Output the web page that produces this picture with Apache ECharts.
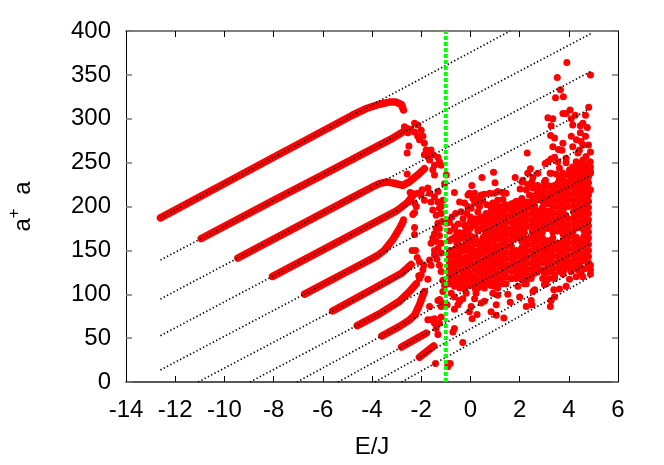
<!DOCTYPE html>
<html>
<head>
<meta charset="utf-8">
<style>
  html, body { margin: 0; padding: 0; background: #fff; }
  #chart { width: 664px; height: 465px; }
</style>
<script src="https://cdn.jsdelivr.net/npm/echarts@6/dist/echarts.min.js"></script>
</head>
<body>
<div id="chart"></div>
<script>
// axis ticks
const xTicks = { min: -14, max: 6, interval: 2 };
const yTicks = { min: 0, max: 400, interval: 50 };

// dotted guide lines, [E, a+a] at both ends
const guideLines = [
  [[-12.6, 187], [1.62, 400]],
  [[-12.6, 139], [4.9, 397]],
  [[-12.6, 94.6], [4.9, 354]],
  [[-12.6, 52.8], [4.9, 312]],
  [[-12.6, 13.7], [4.9, 272]],
  [[-11.07, 0], [4.9, 236]],
  [[-8.96, 0], [4.9, 205]],
  [[-7.05, 0], [4.9, 182]],
  [[-5.38, 0], [4.9, 158]],
  [[-3.88, 0], [4.9, 137]],
  [[-2.8, 0], [4.9, 120]]
];

// the ten regular branches on the left
const branches = [
  [[-12.6, 187], [-10.2, 223], [-8.17, 253.5], [-6.13, 284], [-4.8, 304], [-4.2, 312], [-3.7, 316.5], [-3.29, 319], [-3.02, 319], [-2.8, 316], [-2.72, 310]],
  [[-10.94, 163.5], [-8, 207], [-6, 236], [-3.7, 270], [-3.15, 278], [-2.68, 286]],
  [[-9.45, 141.3], [-7, 177.6], [-5, 207.2], [-4.5, 214.6], [-4, 222], [-3.7, 226], [-3.4, 228], [-3.1, 226.5], [-2.75, 224], [-2.48, 228], [-2.14, 236], [-1.87, 243]],
  [[-8.04, 120.3], [-6, 150.5], [-4, 180.2], [-3.5, 187.6], [-3, 195], [-2.54, 205], [-2.3, 214]],
  [[-6.74, 100.2], [-5, 125.9], [-4, 140.6], [-3.78, 144], [-3.5, 150], [-3.16, 162], [-2.88, 175], [-2.75, 182]],
  [[-5.6, 81], [-3.7, 110], [-2.8, 124], [-2.41, 134]],
  [[-4.6, 64.3], [-3.7, 77.6], [-2.88, 92], [-2.48, 103], [-2.2, 112]],
  [[-3.6, 52.5], [-2.88, 63.4], [-2.48, 70.6], [-2.27, 76], [-2.07, 88], [-1.93, 99], [-1.87, 103]],
  [[-2.8, 39.9], [-1.8, 55.5]],
  [[-2.07, 28.2], [-1.49, 41]]
];

// dense part of the cloud, one list of a+a per E column
const cloudE = [-0.85, -0.64, -0.43, -0.22, -0.01, 0.2, 0.41, 0.62, 0.83, 1.04, 1.25, 1.46, 1.67, 1.88, 2.09, 2.3, 2.51, 2.72, 2.93, 3.14, 3.35, 3.56, 3.77, 3.98, 4.19, 4.4, 4.61, 4.8];
const cloudN = [
  [172, 161, 150, 143, 136, 129, 121],
  [175, 165, 151, 144, 137, 130, 122, 114],
  [170, 163, 155, 148, 141, 134, 127, 119, 112],
  [178, 171, 164, 156, 150, 142, 135, 128, 121, 113, 106],
  [182, 175, 167, 160, 153, 146, 139, 132, 124, 117, 110],
  [186, 178, 164, 157, 149, 143, 135, 128, 120, 113, 106],
  [188, 182, 174, 160, 153, 146, 138, 132, 125, 118, 110],
  [190, 184, 177, 170, 163, 156, 149, 142, 134, 127, 121, 114],
  [194, 187, 181, 173, 166, 160, 152, 145, 138, 131, 124, 117, 110],
  [197, 190, 184, 176, 170, 163, 155, 148, 141, 135, 127, 120, 113],
  [200, 193, 187, 179, 173, 166, 158, 152, 145, 138, 131, 123, 116],
  [197, 190, 183, 176, 169, 162, 155, 148, 141, 134, 127, 120],
  [203, 196, 189, 182, 174, 168, 161, 154, 147, 140, 133, 126, 118],
  [206, 199, 192, 185, 178, 171, 164, 150, 143, 136, 129, 122],
  [209, 202, 195, 188, 181, 174, 167, 160, 153, 146, 139, 132, 125, 117],
  [205, 198, 191, 184, 177, 163, 156, 149, 142, 135, 128, 121],
  [212, 206, 199, 192, 185, 178, 171, 164, 157, 150, 143, 136, 129, 122],
  [216, 209, 195, 188, 181, 174, 167, 160, 153, 146, 139, 132, 125],
  [220, 213, 206, 199, 192, 185, 178, 171, 164, 157, 150, 143, 136, 128],
  [224, 216, 210, 203, 195, 189, 182, 175, 161, 154, 147, 140, 133, 126],
  [220, 213, 206, 199, 192, 185, 178, 171, 164, 157, 150, 143, 136, 129],
  [227, 221, 214, 207, 200, 193, 186, 179, 172, 158, 151, 144, 137, 130],
  [231, 224, 217, 210, 203, 196, 189, 182, 175, 168, 161, 154, 147, 140, 133],
  [228, 221, 214, 207, 200, 186, 179, 172, 165, 158, 151, 144, 137, 131],
  [236, 229, 222, 215, 208, 201, 194, 187, 180, 173, 166, 159, 152, 145, 138, 131],
  [239, 232, 225, 218, 211, 204, 197, 190, 183, 176, 162, 155, 148, 141, 134],
  [236, 229, 222, 215, 208, 201, 194, 187, 180, 173, 166, 159, 152, 145, 138],
  [241, 234, 227, 220, 213, 206, 199, 192, 185, 178, 171, 164, 157, 150, 143, 136]
];
// more dots between those columns, where the reference is solid red
const cloudFill = [
  [-0.75, 150], [-0.75, 136], [-0.75, 122], [-0.55, 158], [-0.55, 143], [-0.55, 128], [-0.33, 165], [-0.33, 150], [-0.33, 135], [-0.33, 120], [-0.12, 172], [-0.12, 157], [-0.12, 142], [-0.12, 127],
  [0.1, 180], [0.1, 165], [0.1, 150], [0.1, 135], [0.1, 120], [0.3, 172], [0.3, 158], [0.3, 142], [0.3, 127], [0.52, 178], [0.52, 165], [0.52, 150], [0.52, 135], [0.52, 120],
  [0.72, 184], [0.72, 170], [0.72, 155], [0.72, 140], [0.72, 125], [0.93, 190], [0.93, 176], [0.93, 160], [0.93, 145], [0.93, 130], [1.15, 194], [1.15, 180], [1.15, 165], [1.15, 150], [1.15, 135],
  [1.35, 190], [1.35, 175], [1.35, 160], [1.35, 145], [1.35, 130], [1.78, 180], [1.78, 165], [2.2, 195], [2.2, 170], [2.2, 150], [2.62, 200], [2.62, 175], [2.62, 150],
  [3.03, 210], [3.03, 180], [3.03, 150], [3.45, 215], [3.45, 185], [3.45, 155], [3.87, 220], [3.87, 190], [3.87, 160], [4.3, 225], [4.3, 195], [4.3, 165]
];

// separate dots: tangle by the green line, edges of the cloud
const tangleDots = [
  [-2.68, 291], [-2.27, 295], [-2.14, 293], [-2.0, 287], [-1.93, 280], [-1.87, 272], [-1.8, 264.5], [-1.6, 264.5], [-1.53, 259], [-1.73, 259], [-1.87, 259], [-1.66, 253],
  [-1.32, 256], [-1.26, 251], [-1.19, 247], [-1.46, 247], [-1.53, 242], [-1.46, 236], [-0.98, 236], [-1.05, 226], [-2.07, 276], [-2.14, 280], [-2.54, 284], [-2.5, 269], [-2.57, 261],
  [-2.44, 288], [-2.57, 289], [-2.27, 285], [-2.57, 237], [-2.45, 216], [-2.27, 204], [-1.96, 219], [-2.0, 213], [-1.73, 221], [-1.66, 215], [-2.14, 215], [-1.87, 207], [-1.46, 211],
  [-1.32, 217], [-1.12, 207], [-1.19, 200], [-2.2, 200], [-2.72, 185], [-2.27, 176], [-2.27, 168], [-2.27, 193], [-2.34, 191], [-1.53, 196], [-2.37, 150], [-2.23, 150],
  [-2.16, 142], [-2.07, 137], [-1.89, 133], [-1.93, 128], [-2.0, 122], [-2.1, 121], [-2.07, 118], [-1.73, 117], [-1.73, 71], [-1.6, 71], [-1.46, 72], [-1.66, 86], [-1.19, 86],
  [-1.32, 93], [-1.25, 94], [-1.19, 74], [-1.12, 90], [-1.46, 67], [-1.26, 67], [-1.39, 61], [-1.32, 54], [-1.42, 21], [-0.92, 21], [-0.82, 21], [-0.92, 17.5], [-0.71, 57], [-0.65, 61],
  [-1.46, 169], [-1.53, 164], [-1.6, 158], [-1.39, 175], [-1.32, 181], [-1.39, 160], [-1.26, 167], [-1.19, 158], [-1.32, 152], [-1.46, 150], [-1.19, 147], [-1.26, 175], [-1.15, 183],
  [-1.19, 192], [-1.26, 198], [-1.32, 205], [-1.39, 190], [-1.6, 205], [-1.46, 145], [-1.36, 140], [-1.66, 139], [-1.6, 133], [-1.26, 133], [-1.19, 126], [-1.12, 116], [-1.05, 110], [-1.12, 103]
];
const upperDots = [
  [3.92, 364], [3.53, 347], [4.88, 350], [3.66, 333], [3.46, 324], [3.78, 325], [4.05, 310], [3.76, 306], [3.89, 306], [3.15, 301], [3.35, 300], [4.81, 313], [4.68, 304], [4.26, 304],
  [4.1, 300], [4.16, 293], [3.28, 292], [4.57, 295], [4.47, 292], [4.75, 290], [4.47, 284], [3.26, 281], [3.42, 278], [4.1, 280], [4.31, 276], [4.68, 280], [4.5, 274], [3.76, 272],
  [3.35, 268], [3.58, 265], [3.72, 264], [4.16, 268], [4.8, 270], [4.57, 270], [4.43, 264], [4.37, 261], [4.88, 262], [2.31, 261], [4.7, 257], [3.89, 255], [3.42, 256], [3.28, 254],
  [3.15, 251], [3.04, 249], [3.55, 251], [3.89, 250], [3.62, 244], [4.57, 253], [4.43, 249], [4.87, 251], [4.77, 245], [4.16, 245], [4.03, 242], [2.44, 243], [2.33, 238], [2.74, 238],
  [0.94, 239], [0.47, 233], [1.82, 233], [3.24, 238], [3.49, 237], [2.54, 233], [3.62, 232], [3.05, 230], [4.23, 238], [4.5, 242], [4.7, 240], [4.88, 240], [4.64, 234], [4.37, 234],
  [4.1, 234], [2.13, 230], [-0.65, 216], [0.06, 224], [-0.04, 215], [0.1, 209], [0.3, 209], [0.57, 214], [0.78, 215], [1.0, 227], [1.11, 217], [1.32, 216], [0.37, 200], [0.67, 202],
  [0.91, 204], [1.11, 207], [1.32, 208], [1.38, 200], [1.83, 205], [2.1, 228], [2.02, 220], [2.33, 225], [2.5, 228], [2.74, 224], [3.01, 228], [2.27, 219], [2.4, 213], [2.54, 221],
  [2.81, 221], [3.42, 224], [3.62, 232], [3.28, 238], [4.03, 238], [4.16, 232], [3.82, 224], [4.41, 234], [2.06, 206], [-0.44, 205], [-0.38, 194], [0.03, 198], [0.3, 194], [0.64, 192], [-0.98, 181]
];
const upperFringe = [
  [-0.1, 213], [0.17, 215], [0.44, 213], [0.98, 215], [1.45, 215], [-0.24, 204], [0.17, 204], [0.5, 206], [0.84, 200], [1.11, 200], [1.45, 202], [1.72, 202], [2.0, 200], [2.33, 204],
  [2.67, 207], [2.74, 215], [3.01, 223], [3.28, 223], [3.15, 213], [3.49, 215], [3.76, 221], [4.1, 226], [4.37, 230], [4.64, 234], [4.88, 238], [4.77, 226], [4.5, 223], [4.88, 219],
  [3.01, 204], [3.42, 206], [2.6, 196], [2.2, 192], [1.79, 192], [1.38, 188], [0.98, 185], [0.57, 185], [0.17, 183], [-0.24, 179], [-0.65, 177], [-0.85, 182], [-0.75, 188], [-0.6, 192],
  [-0.5, 180], [-0.3, 186], [-0.15, 192], [0.0, 188], [-0.1, 200], [-0.75, 163], [-0.55, 170],
  [4.3, 251], [4.5, 247], [4.64, 249], [4.3, 243], [4.84, 241], [4.37, 240], [4.16, 240], [4.64, 243], [4.5, 238], [4.88, 245], [3.89, 236], [3.76, 238]
];
const lowerDots = [
  [-0.31, 45], [0.07, 72], [0.27, 77], [-0.04, 80], [0.03, 86], [-0.65, 83], [-0.51, 88], [-0.44, 92], [-0.31, 95], [-0.95, 88], [-0.78, 101], [-0.44, 107], [-0.17, 101], [0.17, 95],
  [0.44, 90], [0.57, 92], [0.23, 101], [0.84, 80], [1.05, 76], [1.36, 73], [1.05, 88], [1.62, 91], [1.11, 99], [0.91, 101], [1.52, 100], [2.0, 97], [2.27, 86], [2.5, 88], [2.47, 93],
  [3.25, 86], [3.28, 93], [3.42, 97], [3.62, 106], [3.39, 105], [3.89, 109], [2.61, 105], [2.54, 103], [3.01, 111], [4.57, 120], [4.3, 120], [4.88, 123], [4.88, 128], [4.03, 117],
  [3.76, 123], [4.43, 133], [3.2, 118], [3.08, 112], [3.42, 118], [1.32, 112], [1.45, 112], [1.11, 107], [2.2, 112], [2.33, 118], [1.93, 109], [-0.65, 128], [-0.78, 116], [-0.44, 109], [-0.65, 97], [-0.44, 93]
];
const lowerFringe = [
  [-0.85, 112], [-0.65, 109], [-0.31, 112], [-0.1, 118], [-0.51, 118], [0.17, 112], [0.3, 107], [0.57, 107], [0.78, 112], [0.98, 109], [1.25, 114], [1.66, 118], [1.86, 118], [2.13, 122],
  [2.0, 124], [2.47, 118], [2.6, 124], [2.27, 112], [2.94, 118], [3.01, 124], [3.62, 126], [3.82, 128], [4.1, 126], [4.37, 128], [4.64, 129], [4.88, 133], [4.5, 124], [3.28, 126],
  [3.42, 122], [-0.85, 128], [-0.65, 118], [0.64, 114], [0.37, 114], [-0.24, 124]
];

// green vertical marker
const markerE = -1;

const cloudDots = cloudE.flatMap((e, i) => cloudN[i].map(n => [e, n]));
const red = '#ff0000';

const branchSeries = branches.map(b => ({
  type: 'line',
  data: b,
  showSymbol: false,
  symbol: 'none',
  silent: true,
  z: 2,
  lineStyle: { color: red, width: 7.5, cap: 'round', join: 'round', opacity: 1 }
}));

const guideSeries = guideLines.map(l => ({
  type: 'line',
  data: l,
  showSymbol: false,
  symbol: 'none',
  silent: true,
  z: 3,
  lineStyle: { color: '#000', width: 1.7, type: [1.3, 2.4] }
}));

const axisText = { color: '#000', fontFamily: 'Liberation Sans', fontSize: 24 };

const myChart = echarts.init(document.getElementById('chart'));
myChart.setOption({
  animation: false,
  backgroundColor: '#fff',
  grid: { left: 126, right: 46, top: 31, bottom: 83, outerBoundsMode: 'none' },
  xAxis: [
    {
      type: 'value', ...xTicks, position: 'bottom',
      name: 'E/J', nameLocation: 'middle', nameGap: 53, nameTextStyle: axisText,
      splitLine: { show: false },
      axisLine: { onZero: false, lineStyle: { color: '#222', width: 1.5 } },
      axisTick: { inside: true, length: 6, lineStyle: { color: '#000' } },
      axisLabel: { ...axisText, margin: 16 }
    },
    {
      type: 'value', ...xTicks, position: 'top',
      splitLine: { show: false },
      axisLine: { onZero: false, lineStyle: { color: '#555', width: 1.5 } },
      axisTick: { inside: true, length: 6, lineStyle: { color: '#000' } },
      axisLabel: { show: false }
    }
  ],
  yAxis: [
    {
      type: 'value', ...yTicks, position: 'left',
      name: '{a|a}{sup|+}{a|  a}', nameLocation: 'middle', nameGap: 85, nameRotate: 90,
      nameTextStyle: {
        ...axisText,
        rich: {
          a: { ...axisText },
          sup: { ...axisText, fontSize: 17, padding: [0, 0, 18, 0] }
        }
      },
      splitLine: { show: false },
      axisLine: { onZero: false, lineStyle: { color: '#000' } },
      axisTick: { inside: true, length: 6, lineStyle: { color: '#777', width: 1.5 } },
      axisLabel: { ...axisText, margin: 15 }
    },
    {
      type: 'value', ...yTicks, position: 'right',
      splitLine: { show: false },
      axisLine: { onZero: false, lineStyle: { color: '#000' } },
      axisTick: { inside: true, length: 6, lineStyle: { color: '#777', width: 1.5 } },
      axisLabel: { show: false }
    }
  ],
  series: [
    ...branchSeries,
    {
      type: 'scatter',
      data: [...cloudDots, ...cloudFill, ...tangleDots, ...upperDots, ...upperFringe, ...lowerDots, ...lowerFringe],
      symbol: 'circle',
      symbolSize: 7,
      silent: true,
      z: 2,
      itemStyle: { color: red, opacity: 1 }
    },
    ...guideSeries,
    {
      type: 'line',
      data: [[markerE, 0], [markerE, 400]],
      showSymbol: false,
      symbol: 'none',
      silent: true,
      z: 4,
      lineStyle: { color: '#00ff00', width: 4, type: [4, 2] }
    }
  ]
});

window.addEventListener('resize', () => {
  myChart.resize();
});
</script>
</body>
</html>
